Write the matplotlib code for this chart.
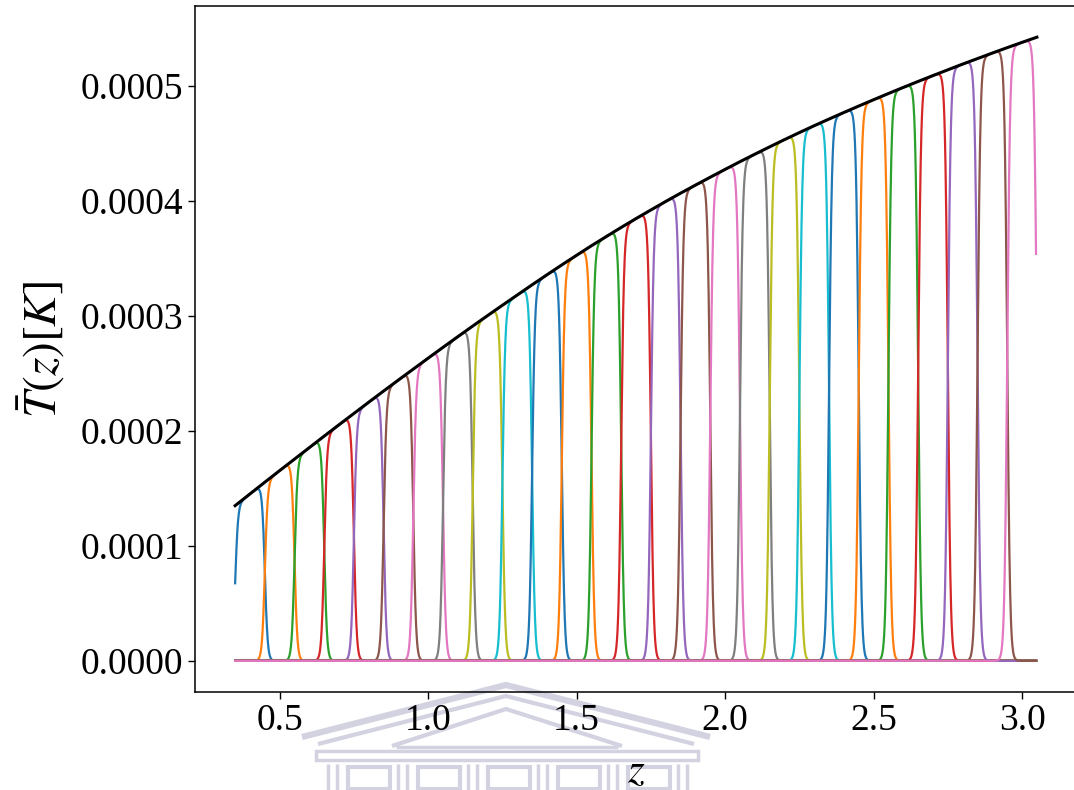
import numpy as np
import matplotlib
matplotlib.use("Agg")
import matplotlib.pyplot as plt
from matplotlib.lines import Line2D
from matplotlib.patches import Rectangle

plt.rcParams['font.family'] = ['Liberation Serif', 'DejaVu Serif']
plt.rcParams['mathtext.fontset'] = 'stix'

# Mean brightness temperature (units of 1e-4 K), z step 0.05
z_curve = [0.35, 0.40, 0.45, 0.50, 0.55, 0.60, 0.65, 0.70, 0.75, 0.80,
           0.85, 0.90, 0.95, 1.00, 1.05, 1.10, 1.15, 1.20, 1.25, 1.30,
           1.35, 1.40, 1.45, 1.50, 1.55, 1.60, 1.65, 1.70, 1.75, 1.80,
           1.85, 1.90, 1.95, 2.00, 2.05, 2.10, 2.15, 2.20, 2.25, 2.30,
           2.35, 2.40, 2.45, 2.50, 2.55, 2.60, 2.65, 2.70, 2.75, 2.80,
           2.85, 2.90, 2.95, 3.00, 3.05]
T_curve_1e4 = [1.350, 1.452, 1.554, 1.655, 1.755, 1.855, 1.955, 2.054, 2.152, 2.250,
               2.347, 2.443, 2.538, 2.633, 2.727, 2.820, 2.912, 3.003, 3.093, 3.182,
               3.271, 3.358, 3.444, 3.528, 3.611, 3.691, 3.770, 3.847, 3.922, 3.996,
               4.068, 4.138, 4.207, 4.275, 4.342, 4.407, 4.471, 4.534, 4.595, 4.655,
               4.713, 4.770, 4.826, 4.881, 4.935, 4.988, 5.040, 5.091, 5.141, 5.191,
               5.239, 5.287, 5.334, 5.380, 5.425]

# Redshift bin edges (27 bins of width 0.1)
bin_edges = [0.35, 0.45, 0.55, 0.65, 0.75, 0.85, 0.95, 1.05, 1.15, 1.25,
             1.35, 1.45, 1.55, 1.65, 1.75, 1.85, 1.95, 2.05, 2.15, 2.25,
             2.35, 2.45, 2.55, 2.65, 2.75, 2.85, 2.95, 3.05]
# curve values at bin edges and bin centres (1e-4 K)
T_edges_1e4 = T_curve_1e4[0::2]
T_centres_1e4 = T_curve_1e4[1::2]

z_start, z_end = 0.35, 3.047
edge_width = 0.0095

z_curve = np.array(z_curve)
T_curve = np.array(T_curve_1e4) * 1e-4

W, H = 1074, 790
fig = plt.figure(figsize=(W / 100, H / 100), dpi=100)

# ---- faint watermark logo (behind everything) ----
wm = '#d2d2e0'


def P(x, y):
    return x / W, 1 - y / H


def wline(xs, ys, lw):
    pts = [P(x, y) for x, y in zip(xs, ys)]
    fig.add_artist(Line2D([p[0] for p in pts], [p[1] for p in pts], color=wm,
                          lw=lw, transform=fig.transFigure, zorder=-5,
                          solid_capstyle='butt', solid_joinstyle='miter'))


def wrect(x0, y0, x1, y1, lw):
    fx0, fy1 = P(x0, y0)
    fx1, fy0 = P(x1, y1)
    fig.add_artist(Rectangle((fx0, fy0), fx1 - fx0, fy1 - fy0, transform=fig.transFigure,
                             facecolor='none', edgecolor=wm, lw=lw, zorder=-5))


wline([302, 506, 710], [737, 685, 737], 4.5)
wline([318, 506, 694], [744, 696, 744], 3.0)
wline([392, 506, 622], [746, 709, 746], 3.0)
wline([396, 618], [747, 747], 2.5)
wrect(316, 751, 698, 760, 2.5)
x = 328
for k in range(6):
    wline([x, x], [764, 790], 2.5)
    wline([x + 9, x + 9], [764, 790], 2.5)
    x += 12
    if k < 5:
        wrect(x + 8, 767, x + 50, 789, 3.0)
        x += 58

ax = fig.add_axes([0.1816, 0.124, 0.8212, 0.8684])
ax.patch.set_alpha(0)

z = np.linspace(z_start, z_end, 3000)
for i in range(len(bin_edges) - 1):
    lo, hi = bin_edges[i], bin_edges[i + 1]
    zc = 0.5 * (lo + hi)
    slope = (T_edges_1e4[i + 1] - T_edges_1e4[i]) / (hi - lo)
    local_T = (T_centres_1e4[i] + slope * (z - zc)) * 1e-4
    w = 0.5 * (np.tanh((z - lo) / edge_width) - np.tanh((z - hi) / edge_width))
    ax.plot(z, local_T * w, lw=1.6)

ax.plot(z_curve, T_curve, color='black', lw=2.2, zorder=5)

ax.set_xticks([0.5, 1.0, 1.5, 2.0, 2.5, 3.0])
ax.set_yticks([0.0, 0.0001, 0.0002, 0.0003, 0.0004, 0.0005])
ax.set_yticklabels(['0.0000', '0.0001', '0.0002', '0.0003', '0.0004', '0.0005'])
ax.tick_params(labelsize=27, length=5, width=1.0)
for s in ax.spines.values():
    s.set_linewidth(1.1)

ax.set_xlabel(r'$z$', fontsize=31, labelpad=10)
ax.set_ylabel(r'$\bar{T}(z)[K]$', fontsize=34, labelpad=10)

fig.savefig('out.png', dpi=100)
